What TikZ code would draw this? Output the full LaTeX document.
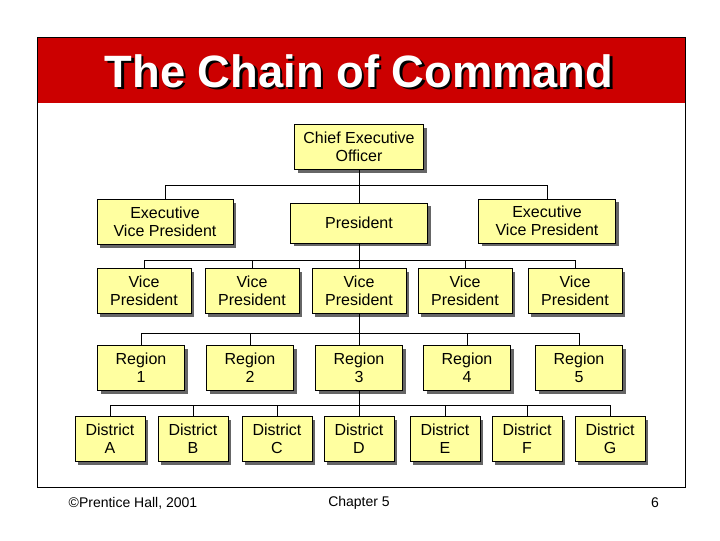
\documentclass[tikz,border=0pt]{standalone}
\usepackage{fontspec}
\setmainfont{Liberation Sans}
\usetikzlibrary{shadows}
\definecolor{boxfill}{RGB}{255,255,160}
\definecolor{titlered}{RGB}{204,0,0}
\begin{document}
\begin{tikzpicture}[x=0.75pt, y=-0.75pt,
  box/.style={draw, fill=boxfill, align=center, inner sep=0pt, font=\fontsize{12}{13.5}\selectfont,
    drop shadow={shadow xshift=2.5pt, shadow yshift=-2.5pt, fill=black!60, opacity=1}},
  link/.style={draw, line width=0.6pt}]
\useasboundingbox (0,0) rectangle (720,540);
% frame and title
\draw[fill=white] (37,37) rectangle (685,487);
\fill[titlered] (37,37) rectangle (685,103);
\draw (37,37) rectangle (685,487);
\node[font=\fontsize{34}{36}\selectfont\bfseries, text=black] at (361.5,73.5) {The Chain of Command};
\node[font=\fontsize{34}{36}\selectfont\bfseries, text=white] (title) at (359,71) {The Chain of Command};

% top
\node[box, minimum width=129*0.75pt, minimum height=45*0.75pt] (ceo) at (359,147) {Chief Executive\\Officer};
\node[box, minimum width=136*0.75pt, minimum height=45*0.75pt] (evpa) at (165,222) {Executive\\Vice President};
\node[box, minimum width=137*0.75pt, minimum height=40*0.75pt] (pres) at (359,223) {President};
\node[box, minimum width=137*0.75pt, minimum height=44*0.75pt] (evpb) at (547,221) {Executive\\Vice President};

% vice presidents
\foreach \n/\x in {1/144, 2/252, 3/359, 4/465, 5/575}
  \node[box, minimum width=94*0.75pt, minimum height=45*0.75pt] (vp\n) at (\x,291) {Vice\\President};

% regions
\foreach \n/\x in {1/141, 2/250, 3/359, 4/467, 5/579}
  \node[box, minimum width=87*0.75pt, minimum height=45*0.75pt] (reg\n) at (\x,368) {Region\\\n};

% districts
\foreach \n/\x in {A/110, B/193, C/277, D/359, E/445, F/527, G/610}
  \node[box, minimum width=70*0.75pt, minimum height=45*0.75pt] (dis\n) at (\x,439) {District\\\n};

% connectors
\draw[link] (ceo.south) -- ++(0,16) coordinate (bus1);
\draw[link] (evpa.north) |- (bus1) -| (evpb.north);
\draw[link] (bus1) -- (pres.north);
\draw[link] (pres.south) -- ++(0,17) coordinate (bus2);
\draw[link] (vp1.north) |- (bus2) -| (vp5.north);
\foreach \n in {2,3,4} \draw[link] (vp\n.north) -- (vp\n.north |- bus2);
\draw[link] (vp3.south) -- ++(0,20) coordinate (bus3);
\draw[link] (reg1.north) |- (bus3) -| (reg5.north);
\foreach \n in {2,3,4} \draw[link] (reg\n.north) -- (reg\n.north |- bus3);
\draw[link] (reg3.south) -- ++(0,15) coordinate (bus4);
\draw[link] (disA.north) |- (bus4) -| (disG.north);
\foreach \n in {B,C,D,E,F} \draw[link] (dis\n.north) -- (dis\n.north |- bus4);

% footer
\node[font=\fontsize{10.5}{12}\selectfont] (copy) at (133,503) {©Prentice Hall, 2001};
\node[font=\fontsize{10.5}{12}\selectfont] (chap) at (359,503) {Chapter 5};
\node[font=\fontsize{10.5}{12}\selectfont] (page) at (655,503) {6};
\end{tikzpicture}
\end{document}
